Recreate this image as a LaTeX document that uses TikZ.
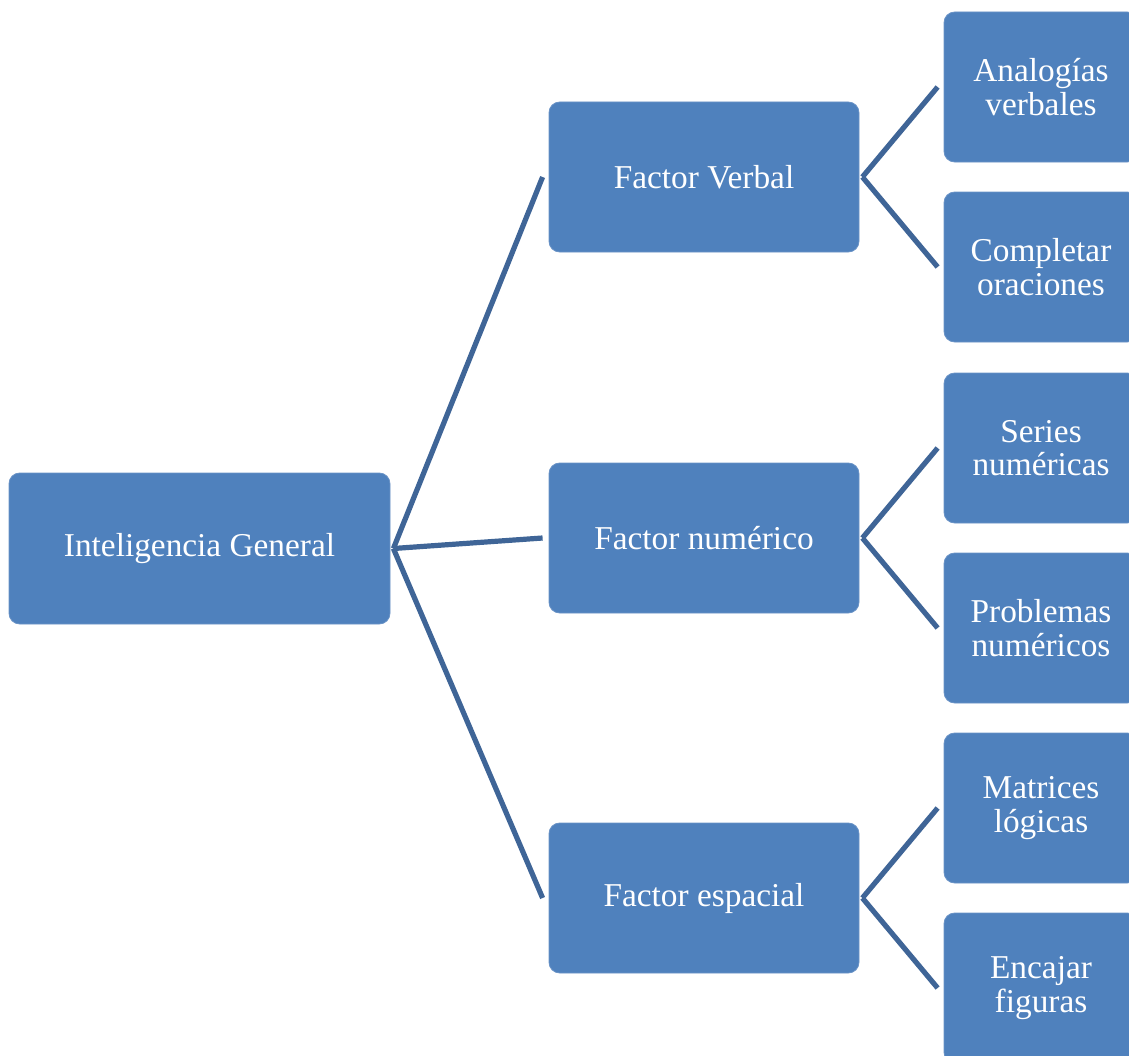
\documentclass[tikz,border=0pt]{standalone}
\usepackage{fontspec}
\setmainfont{Liberation Serif}
\definecolor{boxblue}{HTML}{4F81BD}
\definecolor{boxedge}{HTML}{6A93C6}
\definecolor{linkblue}{HTML}{3F6597}
\begin{document}
\begin{tikzpicture}[x=0.75pt,y=-0.75pt,
  card/.style={draw=boxedge,line width=0.6pt,fill=boxblue,rounded corners=8pt,text=white,align=center,font=\fontsize{25}{25}\selectfont,inner sep=0pt},
  rootcard/.style={card,minimum width=381*0.75pt,minimum height=151*0.75pt},
  midcard/.style={card,minimum width=310*0.75pt,minimum height=150*0.75pt},
  leafcard/.style={card,minimum width=194*0.75pt,minimum height=150*0.75pt},
  link/.style={draw=linkblue,line width=3.9pt}]
\useasboundingbox (0,0) rectangle (1129,1056);
\clip (0,0) rectangle (1129,1056);
\node[rootcard] (root) at (199.5,548.5) {Inteligencia General};
\node[midcard] (verbal) at (704,177) {Factor Verbal};
\node[midcard] (num) at (704,538) {Factor numérico};
\node[midcard] (esp) at (704,898) {Factor espacial};
\node[leafcard] (ana) at (1041,87) {Analogías\\verbales};
\node[leafcard] (comp) at (1041,267) {Completar\\oraciones};
\node[leafcard] (ser) at (1041,448) {Series\\numéricas};
\node[leafcard] (prob) at (1041,628) {Problemas\\numéricos};
\node[leafcard] (mat) at (1041,808) {Matrices\\lógicas};
\node[leafcard] (enc) at (1041,988) {Encajar\\figuras};
\coordinate (r0) at ([xshift=3*0.75pt]root.east);
\draw[link] (r0) -- ([xshift=-6*0.75pt]verbal.west);
\draw[link] (r0) -- ([xshift=-6*0.75pt]num.west);
\draw[link] (r0) -- ([xshift=-6*0.75pt]esp.west);
\coordinate (v0) at ([xshift=3*0.75pt]verbal.east);
\coordinate (n0) at ([xshift=3*0.75pt]num.east);
\coordinate (e0) at ([xshift=3*0.75pt]esp.east);
\draw[link] (v0) -- ([xshift=-6*0.75pt]ana.west);
\draw[link] (v0) -- ([xshift=-6*0.75pt]comp.west);
\draw[link] (n0) -- ([xshift=-6*0.75pt]ser.west);
\draw[link] (n0) -- ([xshift=-6*0.75pt]prob.west);
\draw[link] (e0) -- ([xshift=-6*0.75pt]mat.west);
\draw[link] (e0) -- ([xshift=-6*0.75pt]enc.west);
\end{tikzpicture}
\end{document}
